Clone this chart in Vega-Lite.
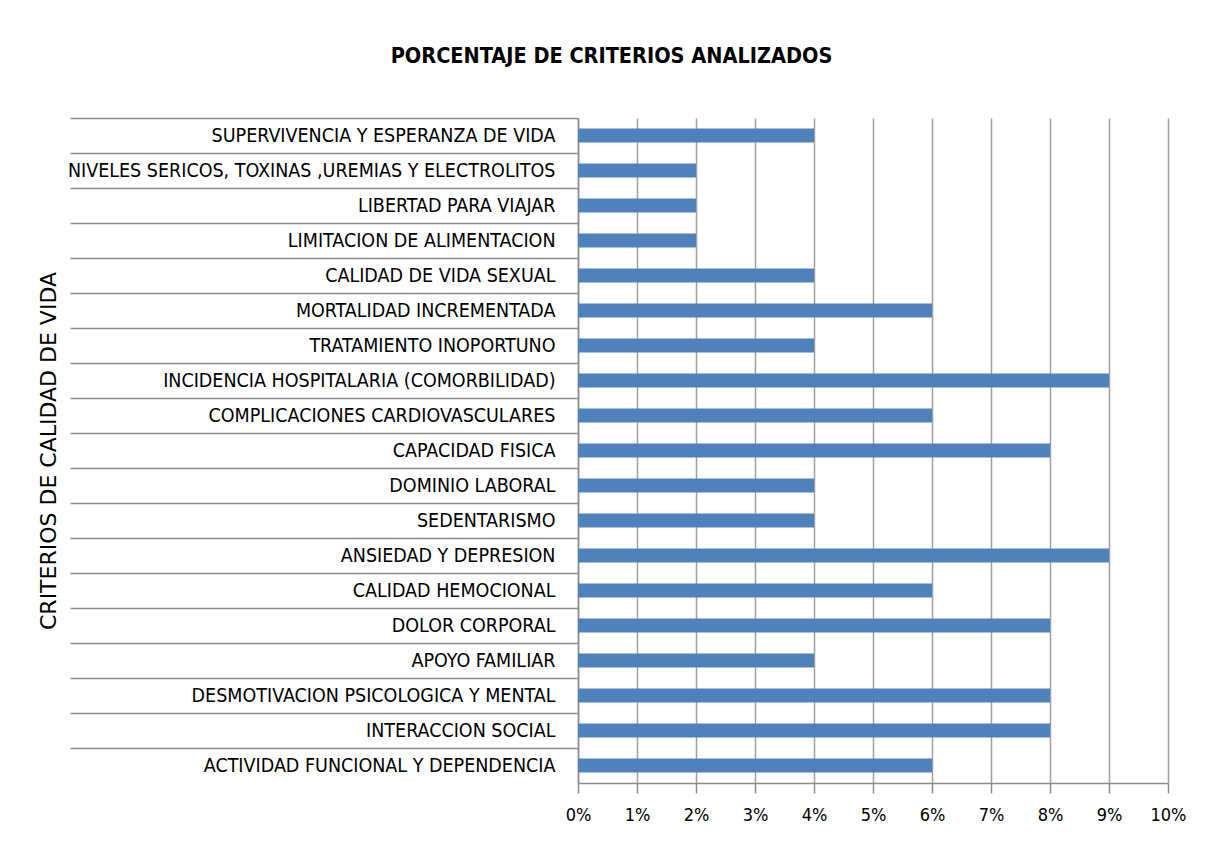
{
  "$schema": "https://vega.github.io/schema/vega-lite/v6.json",
  "autosize": "none",
  "width": 590,
  "height": 665,
  "padding": {"left": 578, "top": 118, "right": 51, "bottom": 69},
  "background": "white",
  "title": {
    "text": "PORCENTAJE DE CRITERIOS ANALIZADOS",
    "anchor": "middle",
    "frame": "bounds",
    "font": "DejaVu Sans Condensed",
    "fontSize": 21.5,
    "fontWeight": "bold",
    "color": "black",
    "offset": 50
  },
  "data": {
    "values": [
      {"criterio": "SUPERVIVENCIA Y ESPERANZA DE VIDA", "pct": 0.04},
      {"criterio": "NIVELES SERICOS, TOXINAS ,UREMIAS Y ELECTROLITOS", "pct": 0.02},
      {"criterio": "LIBERTAD PARA VIAJAR", "pct": 0.02},
      {"criterio": "LIMITACION DE ALIMENTACION", "pct": 0.02},
      {"criterio": "CALIDAD DE VIDA SEXUAL", "pct": 0.04},
      {"criterio": "MORTALIDAD INCREMENTADA", "pct": 0.06},
      {"criterio": "TRATAMIENTO INOPORTUNO", "pct": 0.04},
      {"criterio": "INCIDENCIA HOSPITALARIA (COMORBILIDAD)", "pct": 0.09},
      {"criterio": "COMPLICACIONES CARDIOVASCULARES", "pct": 0.06},
      {"criterio": "CAPACIDAD FISICA", "pct": 0.08},
      {"criterio": "DOMINIO LABORAL", "pct": 0.04},
      {"criterio": "SEDENTARISMO", "pct": 0.04},
      {"criterio": "ANSIEDAD Y DEPRESION", "pct": 0.09},
      {"criterio": "CALIDAD HEMOCIONAL", "pct": 0.06},
      {"criterio": "DOLOR CORPORAL", "pct": 0.08},
      {"criterio": "APOYO FAMILIAR", "pct": 0.04},
      {"criterio": "DESMOTIVACION PSICOLOGICA Y MENTAL", "pct": 0.08},
      {"criterio": "INTERACCION SOCIAL", "pct": 0.08},
      {"criterio": "ACTIVIDAD FUNCIONAL Y DEPENDENCIA", "pct": 0.06}
    ]
  },
  "mark": {"type": "bar", "color": "#4F81BD", "height": {"band": 0.4}},
  "encoding": {
    "y": {
      "field": "criterio",
      "type": "nominal",
      "sort": null,
      "scale": {"paddingInner": 0, "paddingOuter": 0},
      "axis": {
        "title": "CRITERIOS DE CALIDAD DE VIDA",
        "titleFont": "DejaVu Sans",
        "titleFontSize": 22,
        "titleFontWeight": "normal",
        "titleColor": "black",
        "titlePadding": 318,
        "bandPosition": 0,
        "tickSize": 508,
        "tickColor": "#8c8c8c",
        "tickWidth": 1.5,
        "domainColor": "#8c8c8c",
        "domainWidth": 1.5,
        "labelPadding": -485,
        "labelLimit": 0,
        "labelFont": "DejaVu Sans Condensed",
        "labelFontSize": 19.5,
        "labelColor": "black",
        "grid": false
      }
    },
    "x": {
      "field": "pct",
      "type": "quantitative",
      "scale": {"domain": [0, 0.1], "nice": false},
      "axis": {
        "title": null,
        "format": ".0%",
        "values": [0, 0.01, 0.02, 0.03, 0.04, 0.05, 0.06, 0.07, 0.08, 0.09, 0.1],
        "labelFlush": false,
        "grid": true,
        "gridColor": "#a0a0a0",
        "gridWidth": 1.5,
        "tickColor": "#8c8c8c",
        "tickSize": 10,
        "tickWidth": 1.5,
        "domainColor": "#8c8c8c",
        "domainWidth": 1.5,
        "labelPadding": 13,
        "labelFont": "DejaVu Sans Condensed",
        "labelFontSize": 18,
        "labelColor": "black"
      }
    }
  },
  "config": {"view": {"stroke": null}}
}
